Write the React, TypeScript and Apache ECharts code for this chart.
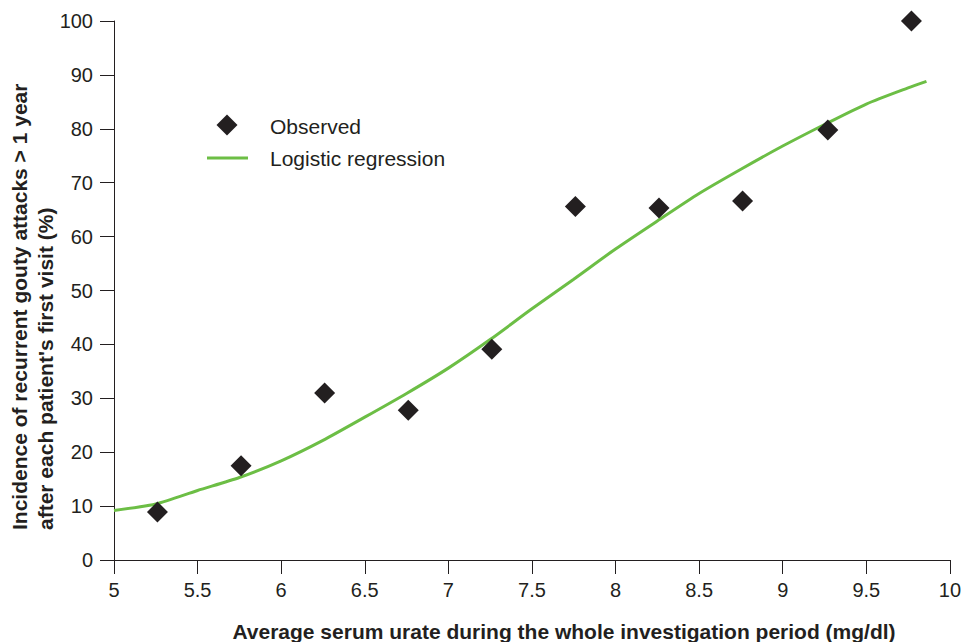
import React, { useEffect, useRef } from "react";
import * as echarts from "echarts";

const observedX = [5.26, 5.76, 6.26, 6.76, 7.26, 7.76, 8.26, 8.76, 9.27, 9.77];
const observedY = [8.9, 17.5, 31.0, 27.8, 39.1, 65.6, 65.3, 66.6, 79.8, 100];

const curveX = [5.0, 5.25, 5.5, 5.75, 6.0, 6.25, 6.5, 6.75, 7.0, 7.25, 7.5, 7.75, 8.0, 8.25, 8.5, 8.75, 9.0, 9.25, 9.5, 9.75, 9.86];
const curveY = [9.2, 10.4, 12.9, 15.3, 18.4, 22.2, 26.5, 30.9, 35.6, 40.9, 46.6, 52.1, 57.7, 62.9, 68.0, 72.5, 76.8, 80.8, 84.6, 87.6, 88.8];

const xTicks = { min: 5, max: 10, step: 0.5 };
const yTicks = { min: 0, max: 100, step: 10 };

const INK = "#231f20";
const GREEN = "#6cbe45";
const FONT = "'Liberation Sans', Arial, Helvetica, sans-serif";

export default function App() {
  const ref = useRef<HTMLDivElement>(null);
  useEffect(() => {
    if (!ref.current) return;
    const chart = echarts.init(ref.current, null, { renderer: "svg" });
    chart.setOption({
      animation: false,
      backgroundColor: "#ffffff",
      textStyle: { fontFamily: FONT, color: INK },
      grid: { left: 114, right: 12, top: 21, bottom: 82, containLabel: false },
      xAxis: {
        type: "value",
        min: xTicks.min,
        max: xTicks.max,
        interval: xTicks.step,
        axisLine: { show: true, lineStyle: { color: INK, width: 1 } },
        axisTick: { show: true, length: 14, lineStyle: { color: INK, width: 1 } },
        axisLabel: { color: INK, fontSize: 20, fontFamily: FONT, margin: 20 },
        splitLine: { show: false },
      },
      yAxis: {
        type: "value",
        min: yTicks.min,
        max: yTicks.max,
        interval: yTicks.step,
        axisLine: { show: true, lineStyle: { color: INK, width: 1 } },
        axisTick: { show: true, length: 14, lineStyle: { color: INK, width: 1 } },
        axisLabel: { color: INK, fontSize: 20, fontFamily: FONT, margin: 21 },
        splitLine: { show: false },
      },
      series: [
        {
          name: "Logistic regression",
          type: "line",
          data: curveX.map((x, i) => [x, curveY[i]]),
          smooth: 0.25,
          showSymbol: false,
          symbol: "none",
          lineStyle: { color: GREEN, width: 3 },
          z: 2,
        },
        {
          name: "Observed",
          type: "scatter",
          data: observedX.map((x, i) => [x, observedY[i]]),
          symbol: "diamond",
          symbolSize: 21,
          itemStyle: { color: INK, opacity: 1 },
          z: 3,
        },
      ],
      graphic: [
        {
          type: "polygon",
          shape: { points: [[227, 114.5], [237.5, 125], [227, 135.5], [216.5, 125]] },
          style: { fill: INK },
        },
        {
          type: "line",
          shape: { x1: 207, y1: 158, x2: 248, y2: 158 },
          style: { stroke: GREEN, lineWidth: 3 },
        },
        {
          type: "text",
          x: 270,
          y: 126,
          style: { text: "Observed", font: `21px ${FONT}`, fill: INK, align: "left", verticalAlign: "middle" },
        },
        {
          type: "text",
          x: 270,
          y: 158,
          style: { text: "Logistic regression", font: `21px ${FONT}`, fill: INK, align: "left", verticalAlign: "middle" },
        },
        {
          type: "text",
          x: 564,
          y: 631,
          style: {
            text: "Average serum urate during the whole investigation period (mg/dl)",
            font: `bold 21px ${FONT}`,
            fill: INK,
            align: "center",
            verticalAlign: "middle",
          },
        },
        {
          type: "text",
          x: 19,
          y: 530,
          rotation: Math.PI / 2,
          style: {
            text: "Incidence of recurrent gouty attacks > 1 year",
            font: `bold 21px ${FONT}`,
            fill: INK,
            align: "left",
            verticalAlign: "middle",
          },
        },
        {
          type: "text",
          x: 45,
          y: 530,
          rotation: Math.PI / 2,
          style: {
            text: "after each patient's first visit (%)",
            font: `bold 21px ${FONT}`,
            fill: INK,
            align: "left",
            verticalAlign: "middle",
          },
        },
      ],
    });
    return () => chart.dispose();
  }, []);
  return <div ref={ref} style={{ width: 964, height: 642, position: "absolute", left: 0, top: 0 }} />;
}
